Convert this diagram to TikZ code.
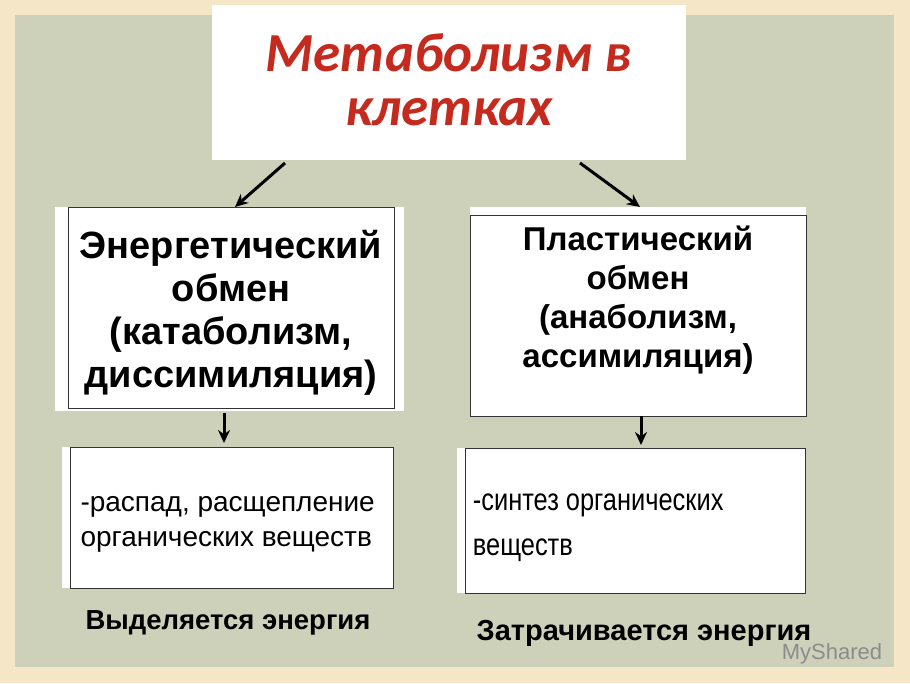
\documentclass[tikz,border=0pt]{standalone}
\usepackage{fontspec}
\setmainfont{Liberation Sans}
\newfontfamily\titlefont{Carlito}
\usetikzlibrary{arrows.meta}
\definecolor{bg}{HTML}{F4E6C6}
\definecolor{panel}{HTML}{CDD1B9}
\definecolor{tred}{HTML}{C42A1E}
\begin{document}
\begin{tikzpicture}[x=1pt,y=-1pt,
  frame/.style={draw=black!80,line width=0.8pt},
  arr/.style={-{Stealth[length=13pt,width=12pt]},line width=3pt},
  bigtxt/.style={font=\bfseries\fontsize{38}{43}\selectfont,align=center},
  smalltxt/.style={font=\fontsize{28}{35}\selectfont,align=left,anchor=west}]
\fill[bg] (0,0) rectangle (910,683);
\fill[panel] (15,15) rectangle (894,667);
% title
\fill[white] (212,5) rectangle (686,160);
\node[font=\titlefont\bfseries\itshape\fontsize{55}{54}\selectfont,text=tred,align=center] (title) at (449,80) {Метаболизм в\\клетках};
\coordinate (tl) at (285,163); \coordinate (tr) at (580,163);
% left top box
\fill[white] (55,207) rectangle (404,411);
\draw[frame] (68,207) rectangle (394,408);
\node[bigtxt] (en) at (231,313) {Энергетический\\обмен\\(катаболизм,\\диссимиляция)};
\coordinate (enT) at (235,207); \coordinate (enB) at (224,413);
% right top box
\fill[white] (470,207) rectangle (806,416);
\draw[frame] (470,215) rectangle (806,416);
\node[bigtxt,font=\bfseries\fontsize{33}{39}\selectfont] (pl) at (638,300) {Пластический\\обмен\\(анаболизм,\\ассимиляция)};
\coordinate (plT) at (640,207); \coordinate (plB) at (641,416);
% lower boxes
\fill[white] (62,447) rectangle (393,588);
\draw[frame] (70,447) rectangle (393,588);
\node[smalltxt] (ras) at (77,524) {-распад, расщепление\\органических веществ};
\coordinate (rasT) at (224,443);
\fill[white] (457,448) rectangle (805,593);
\draw[frame] (465,448) rectangle (805,593);
\node[smalltxt,font=\fontsize{31}{45}\selectfont,xscale=0.82,anchor=west] (sin) at (470,528) {-синтез органических\\веществ};
\coordinate (sinT) at (641,445);
% arrows
\draw[arr] (tl) -- (enT);
\draw[arr] (tr) -- (plT);
\draw[arr] (enB) -- (rasT);
\draw[arr] (plB) -- (sinT);
% labels
\node[font=\bfseries\fontsize{27.5}{30}\selectfont] (vyd) at (228,623) {Выделяется энергия};
\node[font=\bfseries\fontsize{29}{32}\selectfont] (zat) at (644,633) {Затрачивается энергия};
\node[font=\fontsize{22}{24}\selectfont,text=black!45] (ms) at (832,654) {MyShared};
\end{tikzpicture}
\end{document}
